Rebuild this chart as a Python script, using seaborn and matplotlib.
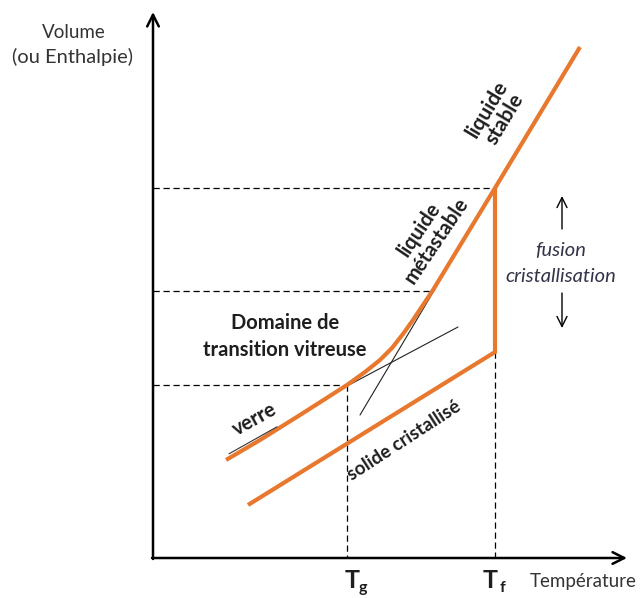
import numpy as np
import pandas as pd
import seaborn as sns
import matplotlib.pyplot as plt

# points (x vers la droite, y vers le bas)
courbe_x = [226, 260, 300, 347, 365, 380, 392, 403, 413, 423, 433, 495, 580]
courbe_y = [460, 440, 415, 385, 372, 360, 348, 334, 320, 305, 290, 188, 47]
cristal_x = [248, 495, 495]
cristal_y = [505, 352, 188]

# tangentes (traits fins noirs)
tan_liq_x = [360, 435]
tan_liq_y = [415, 289]
tan_verre_x = [347, 458]
tan_verre_y = [386, 327]
debut_verre_x = [229, 277]
debut_verre_y = [455, 428]

# reperes
x0, y0 = 153, 558
Tg, Tf = 347, 495
V_g, V_f_liq, V_f_sol, V_mid = 385, 188, 352, 291
x_mid = 433

orange = '#E8782E'

sns.set_theme(style='white')
plt.rcParams['font.family'] = ['Lato', 'DejaVu Sans']

fig = plt.figure(figsize=(6.42, 5.98), dpi=100)
ax = fig.add_axes([0, 0, 1, 1])

# pointilles
dash = dict(color='black', lw=0.9, linestyle=(0, (5, 3)))
ax.plot([x0, Tf], [V_f_liq, V_f_liq], **dash)
ax.plot([x0, x_mid], [V_mid, V_mid], **dash)
ax.plot([x0, Tg], [V_g, V_g], **dash)
ax.plot([Tg, Tg], [V_g, y0], **dash)
ax.plot([Tf, Tf], [V_f_sol, y0], **dash)

# tangentes
ax.plot(tan_liq_x, tan_liq_y, color='#222222', lw=0.8)
ax.plot(tan_verre_x, tan_verre_y, color='#222222', lw=0.8)

# courbes orange
df_c = pd.DataFrame({'x': courbe_x, 'y': courbe_y})
df_s = pd.DataFrame({'x': cristal_x, 'y': cristal_y})
sns.lineplot(data=df_c, x='x', y='y', sort=False, estimator=None, color=orange, lw=3, ax=ax,
             solid_capstyle='butt', solid_joinstyle='round')
sns.lineplot(data=df_s, x='x', y='y', sort=False, estimator=None, color=orange, lw=3, ax=ax,
             solid_capstyle='butt', solid_joinstyle='miter')
ax.plot(debut_verre_x, np.array(debut_verre_y) - 1.2, color='#333333', lw=0.8)
ax.set_xlim(0, 642)
ax.set_ylim(598, 0)
ax.axis('off')

# axes avec fleches
fl = dict(arrowstyle='->,head_length=0.7,head_width=0.35', color='black', lw=1.8, shrinkA=0, shrinkB=0)
ax.annotate('', xy=(x0, 12), xytext=(x0, y0 + 1), arrowprops=fl)
ax.annotate('', xy=(627, y0), xytext=(x0 - 1, y0), arrowprops=fl)

# fleches fusion / cristallisation
fl2 = dict(arrowstyle='->,head_length=0.6,head_width=0.3', color='black', lw=1.0, shrinkA=0, shrinkB=0)
ax.annotate('', xy=(562, 196), xytext=(562, 229), arrowprops=fl2)
ax.annotate('', xy=(562, 328), xytext=(562, 293), arrowprops=fl2)

# textes
txt = '#1e1e1e'
ax.text(74, 33, 'Volume', ha='center', va='center', fontsize=13.5, color='#333333')
ax.text(72, 57, '(ou Enthalpie)', ha='center', va='center', fontsize=14.5, color='#333333')
ax.text(285, 323, 'Domaine de', ha='center', va='center', fontsize=14.5, fontweight='bold', color=txt)
ax.text(285, 350, 'transition vitreuse', ha='center', va='center', fontsize=14.5, fontweight='bold', color=txt)
ax.text(496, 114, 'liquide\nstable', ha='center', va='center', fontsize=15, fontweight='bold',
        rotation=59, rotation_mode='anchor', linespacing=1.0, color=txt)
ax.text(428, 235, 'liquide\nmétastable', ha='center', va='center', fontsize=14.5, fontweight='bold',
        rotation=56, rotation_mode='anchor', linespacing=1.0, color=txt)
ax.text(255, 419, 'verre', ha='center', va='center', fontsize=14.5, fontweight='bold',
        rotation=29, rotation_mode='anchor', color=txt)
ax.text(404, 441, 'solide cristallisé', ha='center', va='center', fontsize=13.5, fontweight='bold',
        rotation=33, rotation_mode='anchor', color=txt)
ax.text(561, 250, 'fusion', ha='center', va='center', fontsize=14.5, style='italic', color='#33334a')
ax.text(561, 277, 'cristallisation', ha='center', va='center', fontsize=14.5, style='italic', color='#33334a')

ax.text(Tg + 5, 580, 'T', ha='center', va='center', fontsize=18, fontweight='bold', color=txt)
ax.text(Tg + 16, 588, 'g', ha='center', va='center', fontsize=11.5, fontweight='bold', color=txt)
ax.text(Tf - 5, 580, 'T', ha='center', va='center', fontsize=18, fontweight='bold', color=txt)
ax.text(Tf + 7, 588, 'f', ha='center', va='center', fontsize=11.5, fontweight='bold', color=txt)
ax.text(530, 582, 'Température', ha='left', va='center', fontsize=13.5, color='#333333')

fig.savefig('out.png', dpi=100)
